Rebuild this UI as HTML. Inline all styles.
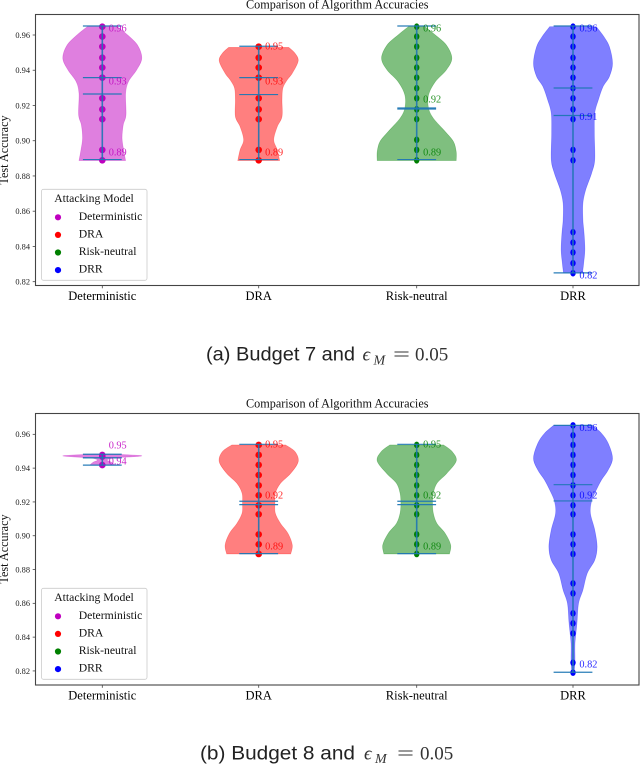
<!DOCTYPE html>
<html lang="en">
<head>
<meta charset="utf-8">
<title>Comparison of Algorithm Accuracies</title>
<style>
html,body{margin:0;padding:0;background:#fff;width:640px;height:767px;overflow:hidden}
svg{display:block;position:absolute;left:0;top:0}
text{font-family:"Liberation Serif",serif}
#charts{filter:blur(.35px)}
.cap{font-family:"Liberation Sans",sans-serif;font-size:19px;fill:#222}
.math{font-family:"Liberation Serif","DejaVu Serif",serif;fill:#333}
</style>
</head>
<body>
<svg id="charts" width="640" height="767" viewBox="0 0 640 767" xmlns="http://www.w3.org/2000/svg"></svg>
<svg width="640" height="767" viewBox="0 0 640 767" xmlns="http://www.w3.org/2000/svg">
  <g>
    <text class="cap" x="206" y="360.7" textLength="149" lengthAdjust="spacingAndGlyphs">(a) Budget 7 and</text>
    <text class="math" x="362.5" y="360.7" font-size="19" font-style="italic">ϵ</text>
    <text class="math" x="373.5" y="364.5" font-size="14" font-style="italic">M</text>
    <text class="math" x="393" y="360.7" font-size="19" textLength="17" lengthAdjust="spacingAndGlyphs">=</text>
    <text class="math" x="415" y="360.7" font-size="19">0.05</text>
  </g>
  <g>
    <text class="cap" x="200" y="759.3" textLength="155" lengthAdjust="spacingAndGlyphs">(b) Budget 8 and</text>
    <text class="math" x="364" y="759.3" font-size="19" font-style="italic">ϵ</text>
    <text class="math" x="375" y="763" font-size="14" font-style="italic">M</text>
    <text class="math" x="397" y="759.3" font-size="19" textLength="17" lengthAdjust="spacingAndGlyphs">=</text>
    <text class="math" x="420" y="759.3" font-size="19">0.05</text>
  </g>
</svg>
<script>
const categories = ['Deterministic', 'DRA', 'Risk-neutral', 'DRR'];
const yTicks = [0.96, 0.94, 0.92, 0.90, 0.88, 0.86, 0.84, 0.82];
const yTickLabels = ['0.96', '0.94', '0.92', '0.90', '0.88', '0.86', '0.84', '0.82'];

/* Budget 7: violin density profiles (accuracy grid, relative density) */
const a1Grid = [.9647,.9600,.9543,.9468,.9402,.9335,.9269,.9146,.9090,.9014,.8948,.8887];
const a1Density = [.38,.64,.89,1,.87,.66,.59,.60,.53,.50,.54,.59];
const a2Grid = [.9530,.9496,.9453,.9383,.9345,.9298,.9231,.9137,.9080,.9005,.8948,.8887];
const a2Density = [.76,.92,1,.85,.72,.61,.59,.59,.47,.38,.47,.53];
const a3Grid = [.9647,.9600,.9543,.9468,.9402,.9335,.9260,.9184,.9127,.9052,.8995,.8938,.8887];
const a3Density = [.21,.47,.75,.89,.75,.47,.30,.30,.42,.72,.93,1,1];
const a4Grid = [.9647,.9591,.9534,.9439,.9364,.9307,.9231,.9156,.9042,.8891,.8815,.8721,.8645,.8551,.8475,.8381,.8305,.8248];
const a4Density = [.59,.78,.92,1,.92,.76,.64,.55,.54,.55,.47,.32,.25,.25,.28,.30,.27,.24];

/* Budget 7: observations */
const a1Points = [.9647,.9591,.9534,.9471,.9415,.9358,.9241,.9178,.9122,.8948,.8889];
const a2Points = [.9534,.9471,.9415,.9358,.9241,.9178,.9122,.8948,.8889];
const a3Points = [.9647,.9591,.9534,.9471,.9415,.9358,.9298,.9241,.9178,.9122,.9005,.8948,.8889];
const a4Points = [.9647,.9591,.9534,.9471,.9415,.9358,.9298,.9241,.9178,.9122,.8948,.8889,.8481,.8422,.8366,.8305,.8248];

/* Budget 7: summary bars */
const aMax = [.9651,.9536,.9651,.9651];
const aMin = [.8893,.8893,.8893,.8250];
const aMean = [.9265,.9262,.9186,.9299];
const aMedian = [.9358,.9358,.9180,.9143];

/* Budget 7: printed values */
const a1Labels = ['0.96','0.93','0.89'];
const a1LabelAt = [.9638,.9337,.8936];
const a2Labels = ['0.95','0.93','0.89'];
const a2LabelAt = [.9538,.9337,.8936];
const a3Labels = ['0.96','0.92','0.89'];
const a3LabelAt = [.9638,.9235,.8936];
const a4Labels = ['0.96','0.91','0.82'];
const a4LabelAt = [.9638,.9137,.8237];

/* Budget 8: violin density profiles */
const b1Grid = [.9483,.9473,.9460,.9448,.9436,.9418];
const b1Density = [.2,1,.3,.12,.22,.32];
const b2Grid = [.9537,.9497,.9438,.9369,.9310,.9251,.9192,.9133,.9073,.9014,.8945,.8892];
const b2Density = [.68,.92,1,.81,.55,.42,.41,.42,.55,.74,.85,.81];
const b3Grid = [.9537,.9497,.9442,.9369,.9310,.9251,.9192,.9133,.9073,.9014,.8945,.8892];
const b3Density = [.68,.9,1,.76,.51,.42,.40,.42,.51,.72,.86,.83];
const b4Grid = [.9653,.9606,.9547,.9458,.9389,.9330,.9271,.9206,.9133,.9034,.8935,.8856,.8778,.8679,.8600,.8482,.8363,.8265,.8190];
const b4Density = [.49,.72,.89,1,.89,.72,.59,.47,.44,.55,.61,.55,.36,.25,.14,.10,.05,.05,.03];

/* Budget 8: observations */
const b1Points = [.9478,.9468,.9418];
const b2Points = [.9537,.9478,.9419,.9359,.9298,.9239,.9180,.9127,.9008,.8949,.8892];
const b3Points = [.9537,.9478,.9419,.9359,.9298,.9239,.9180,.9127,.9008,.8949,.8892];
const b4Points = [.9653,.9594,.9537,.9478,.9419,.9359,.9298,.9239,.9180,.9127,.9008,.8949,.8892,.8718,.8659,.8541,.8482,.8422,.8249,.8190];

/* Budget 8: summary bars */
const bMax = [.9482,.9541,.9541,.9653];
const bMin = [.9418,.8894,.8894,.8192];
const bMean = [.9461,.9204,.9204,.9302];
const bMedian = [.9461,.9184,.9184,.9206];

/* Budget 8: printed values */
const b1Labels = ['0.95','0.94'];
const b1LabelAt = [.9537,.9442];
const b2Labels = ['0.95','0.92','0.89'];
const b2LabelAt = [.9541,.9239,.8939];
const b3Labels = ['0.95','0.92','0.89'];
const b3LabelAt = [.9541,.9239,.8939];
const b4Labels = ['0.96','0.92','0.82'];
const b4LabelAt = [.9639,.9239,.8239];

const seriesColors = ['#bf00bf', '#ff0000', '#008000', '#0000ff'];
const dotWidths = [3.3, 3.3, 2.7, 2.7];
const barColor = '#1f77b4';
const svgNS = 'http://www.w3.org/2000/svg';
const root = document.getElementById('charts');

function make(tag, attrs, parent) {
  const node = document.createElementNS(svgNS, tag);
  for (const k in attrs) node.setAttribute(k, attrs[k]);
  parent.appendChild(node);
  return node;
}

function smoothSide(pts) {
  let d = '';
  for (let i = 0; i < pts.length - 1; i++) {
    const p0 = pts[Math.max(0, i - 1)], p1 = pts[i], p2 = pts[i + 1], p3 = pts[Math.min(pts.length - 1, i + 2)];
    const c1x = p1[0] + (p2[0] - p0[0]) / 6, c1y = p1[1] + (p2[1] - p0[1]) / 6;
    const c2x = p2[0] - (p3[0] - p1[0]) / 6, c2y = p2[1] - (p3[1] - p1[1]) / 6;
    d += 'C' + c1x.toFixed(2) + ' ' + c1y.toFixed(2) + ' ' + c2x.toFixed(2) + ' ' + c2y.toFixed(2) + ' ' + p2[0].toFixed(2) + ' ' + p2[1].toFixed(2);
  }
  return d;
}

function drawPanel(cfg) {
  const left = 35.5, right = 639;
  const xPos = [102.3, 258.7, 416.7, 573];
  const halfWidth = 39.5, capHalf = 19.4;
  const y = v => cfg.y96 + (0.96 - v) * cfg.pxPerUnit;

  const g = make('g', {}, root);
  
  

  const title = make('text', {x: (left + right) / 2, y: cfg.top - 6.2, 'text-anchor': 'middle', 'font-size': 12.2, fill: '#111'}, g);
  
  
  title.textContent = 'Comparison of Algorithm Accuracies';

  const midY = cfg.titleY;
  const yTitle = make('text', {transform: 'translate(8,' + midY + ') rotate(-90)', 'text-anchor': 'middle', 'font-size': 12.2, fill: '#111'}, g);
  
  
  yTitle.textContent = 'Test Accuracy';

  yTicks.forEach((t, i) => {
    const mark = make('line', {x1: left - 2.8, x2: left, y1: y(t), y2: y(t), stroke: '#444', 'stroke-width': .8}, g);
    
    
    const lab = make('text', {x: 30, y: y(t) + 2.9, 'text-anchor': 'end', 'font-size': 8.4, fill: '#222'}, g);
    
    
    lab.textContent = yTickLabels[i];
  });

  categories.forEach((c, i) => {
    const color = seriesColors[i];
    const cx = xPos[i];
    const gr = cfg.grids[i], de = cfg.densities[i];
    const rightSide = gr.map((v, k) => [cx + de[k] * halfWidth, y(v)]);
    const leftSide = gr.map((v, k) => [cx - de[k] * halfWidth, y(v)]).reverse();
    const d = 'M' + rightSide[0][0].toFixed(2) + ' ' + rightSide[0][1].toFixed(2) + smoothSide(rightSide) +
      'L' + leftSide[0][0].toFixed(2) + ' ' + leftSide[0][1].toFixed(2) + smoothSide(leftSide) + 'Z';
    const body = make('path', {d: d, fill: color, 'fill-opacity': .5, stroke: color, 'stroke-opacity': .35, 'stroke-width': .6}, g);
    
    

    cfg.points[i].forEach(v => {
      const dot = make('ellipse', {cx: cx, cy: y(v), rx: dotWidths[i], ry: 3.3, fill: color}, g);
      
      
    });

    const stem = make('line', {x1: cx, x2: cx, y1: y(cfg.max[i]), y2: y(cfg.min[i]), stroke: barColor, 'stroke-width': 1.6, 'stroke-opacity': .9}, g);
    
    

    [cfg.max[i], cfg.min[i], cfg.mean[i], cfg.median[i]].forEach(v => {
      const cap = make('line', {x1: cx - capHalf, x2: cx + capHalf, y1: y(v), y2: y(v), stroke: barColor, 'stroke-width': 1.2, 'stroke-opacity': .95}, g);
      
      
    });

    cfg.labels[i].forEach((txt, k) => {
      const vl = make('text', {x: cx + 6.4, y: y(cfg.labelAt[i][k]) + 3.4, 'font-size': 10.3, fill: color, 'fill-opacity': .85}, g);
      
      
      vl.textContent = txt;
    });

    const tick = make('line', {x1: cx, x2: cx, y1: cfg.bottom, y2: cfg.bottom + 2.8, stroke: '#444', 'stroke-width': .8}, g);
    
    
    const xl = make('text', {x: cx, y: cfg.bottom + 14.6, 'text-anchor': 'middle', 'font-size': 12.5, fill: '#000'}, g);
    
    
    xl.textContent = c;
  });

  const frame = make('rect', {x: left, y: cfg.top, width: right - left, height: cfg.bottom - cfg.top, fill: 'none', stroke: '#444', 'stroke-width': 1.1}, g);
  
  

  const lg = make('g', {}, g);
  
  
  const lt = cfg.legendTop;
  const box = make('rect', {x: 41.5, y: lt, width: 105.5, height: 91, rx: 2, fill: '#fff', 'fill-opacity': .9, stroke: '#ccc', 'stroke-width': .8}, lg);
  
  
  const lh = make('text', {x: 94, y: lt + 12.6, 'text-anchor': 'middle', 'font-size': 11.7, fill: '#111'}, lg);
  
  
  lh.textContent = 'Attacking Model';
  categories.forEach((c, i) => {
    const ey = lt + 28 + i * 17.6;
    const m = make('circle', {cx: 58, cy: ey, r: 3.1, fill: seriesColors[i]}, lg);
    
    
    const t = make('text', {x: 78.7, y: ey + 2.6, 'font-size': 11.7, fill: '#111'}, lg);
    
    
    t.textContent = c;
  });
}

drawPanel({
  id: 'budget-7', top: 14.5, bottom: 285.5, y96: 35, pxPerUnit: 1762, titleY: 150, legendTop: 189.3,
  grids: [a1Grid, a2Grid, a3Grid, a4Grid], densities: [a1Density, a2Density, a3Density, a4Density],
  points: [a1Points, a2Points, a3Points, a4Points],
  max: aMax, min: aMin, mean: aMean, median: aMedian,
  labels: [a1Labels, a2Labels, a3Labels, a4Labels], labelAt: [a1LabelAt, a2LabelAt, a3LabelAt, a4LabelAt]
});
drawPanel({
  id: 'budget-8', top: 413.5, bottom: 685, y96: 434.33, pxPerUnit: 1690, titleY: 549, legendTop: 588.3,
  grids: [b1Grid, b2Grid, b3Grid, b4Grid], densities: [b1Density, b2Density, b3Density, b4Density],
  points: [b1Points, b2Points, b3Points, b4Points],
  max: bMax, min: bMin, mean: bMean, median: bMedian,
  labels: [b1Labels, b2Labels, b3Labels, b4Labels], labelAt: [b1LabelAt, b2LabelAt, b3LabelAt, b4LabelAt]
});
</script>
</body>
</html>
